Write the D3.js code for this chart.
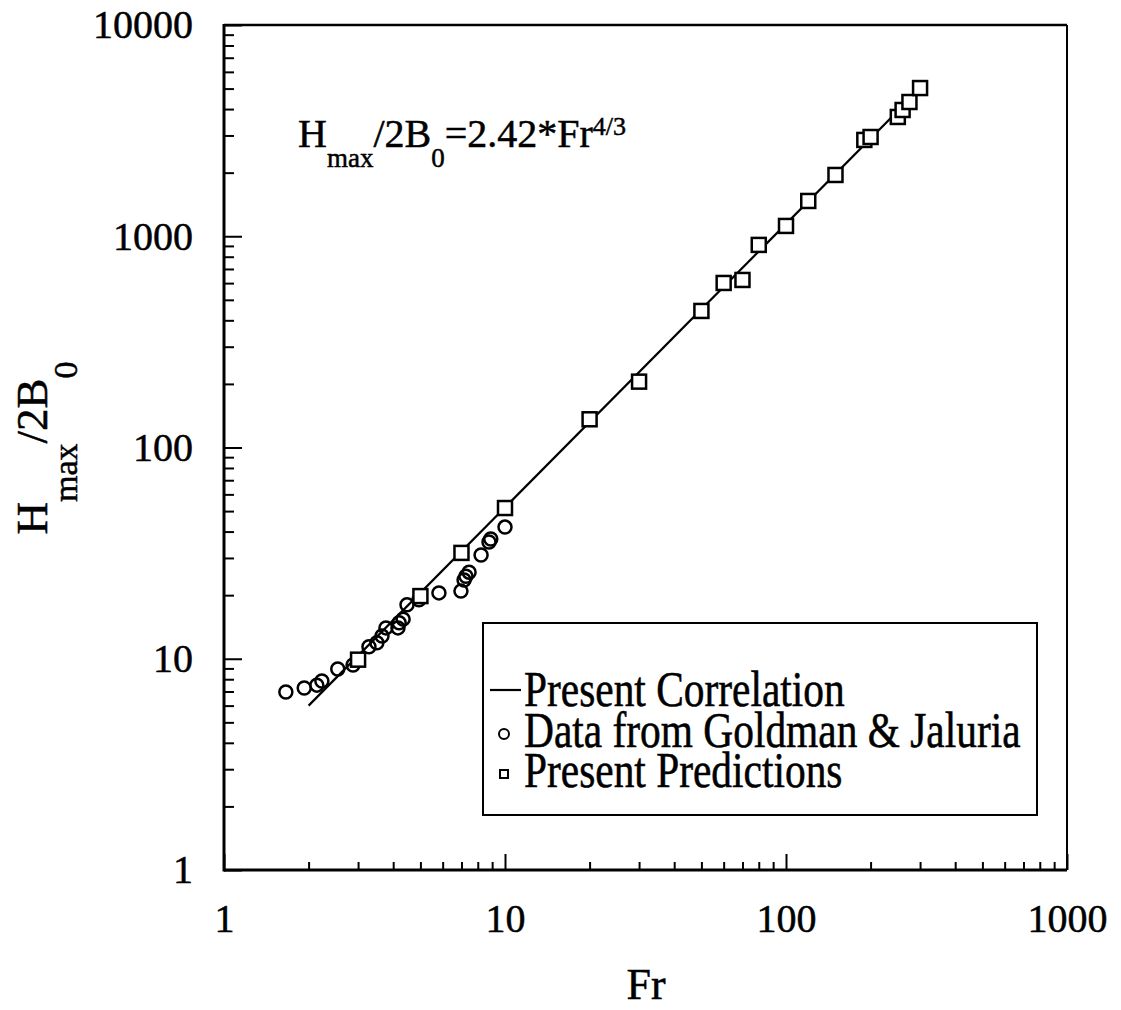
<!DOCTYPE html>
<html>
<head>
<meta charset="utf-8">
<script src="https://cdn.jsdelivr.net/npm/d3@7"></script>
<style>
  html, body { margin: 0; padding: 0; background: #fff; }
  text { font-family: "Liberation Serif", "Times New Roman", serif; fill: #000; stroke: #000; stroke-width: 0.5px; }
</style>
</head>
<body>
<div id="chart"></div>
<script>
// Goldman & Jaluria data (circles)
var gjFr = [1.66, 1.93, 2.14, 2.23, 2.54, 2.88, 3.28, 3.50, 3.65, 3.77, 4.16, 4.20, 4.34, 4.48, 4.94, 5.82, 6.97, 7.15, 7.26, 7.45, 8.22, 8.77, 8.90, 10.0];
var gjH  = [6.96, 7.27, 7.50, 7.85, 8.94, 9.34, 11.4, 11.9, 12.8, 14.0, 14.0, 14.8, 15.4, 18.0, 19.0, 20.5, 20.9, 23.6, 24.6, 25.7, 31.0, 35.7, 36.9, 42.0];

// present predictions (squares)
var prFr = [3, 5, 7, 10, 20, 30, 50, 60, 70, 80, 100, 120, 150, 190, 200, 250, 260, 275, 300];
var prH  = [9.9, 19.8, 31.7, 51.7, 136, 205, 443, 601, 621, 910, 1119, 1469, 1950, 2857, 2950, 3670, 3960, 4320, 5030];

// present correlation line, end points
var corrFr = [2, 300];
var corrH  = [6.0, 5000];

var xMajor = [1, 10, 100, 1000];
var yMajor = [1, 10, 100, 1000, 10000];
var xTitle = "Fr";
var legendLabels = ["Present Correlation", "Data from Goldman & Jaluria", "Present Predictions"];

var W = 1121, H = 1010;
var pLeft = 224, pRight = 1067, pTop = 25, pBottom = 870;

var svg = d3.select("#chart").append("svg")
    .attr("width", W)
    .attr("height", H);

var x = d3.scaleLog().domain([1, 1000]).range([pLeft, pRight]);
var y = d3.scaleLog().domain([1, 10000]).range([pBottom, pTop]);

function minors(major) {
    var out = [];
    major.slice(0, -1).forEach(function(m){
        for (var k = 2; k <= 9; k++) { out.push(m * k); }
    });
    return out;
}

// axes, ticks pointing inward
var yAxisG = svg.append("g").attr("transform", "translate(" + pLeft + ",0)");
yAxisG.call(d3.axisLeft(y).tickValues(yMajor).tickSize(-18).tickPadding(31).tickFormat(d3.format("d")));
yAxisG.append("g").call(d3.axisLeft(y).tickValues(minors(yMajor)).tickSize(-10).tickFormat(""));

var xAxisG = svg.append("g").attr("transform", "translate(0," + pBottom + ")");
xAxisG.call(d3.axisBottom(x).tickValues(xMajor).tickSize(-16).tickPadding(34).tickFormat(d3.format("d")));
xAxisG.append("g").call(d3.axisBottom(x).tickValues(minors(xMajor)).tickSize(-8).tickFormat(""));

svg.selectAll(".domain").remove();
svg.selectAll(".tick line").attr("stroke", "#000").attr("stroke-width", 2);
svg.selectAll(".tick text")
    .style("font-family", "'Liberation Serif', serif")
    .style("font-size", "40px")
    .attr("fill", "#000");

// frame
svg.append("line").attr("x1", pLeft).attr("x2", pRight).attr("y1", pTop).attr("y2", pTop)
    .attr("stroke", "#000").attr("stroke-width", 2.5);
svg.append("line").attr("x1", pRight).attr("x2", pRight).attr("y1", pTop).attr("y2", pBottom)
    .attr("stroke", "#000").attr("stroke-width", 2);
svg.append("line").attr("x1", pLeft).attr("x2", pLeft).attr("y1", pTop - 1).attr("y2", pBottom + 1.5)
    .attr("stroke", "#000").attr("stroke-width", 3);
svg.append("line").attr("x1", pLeft).attr("x2", pRight).attr("y1", pBottom).attr("y2", pBottom)
    .attr("stroke", "#000").attr("stroke-width", 3);

// correlation line
var line = d3.line()
    .x(function(d){ return x(d[0]); })
    .y(function(d){ return y(d[1]); });

svg.append("path")
    .datum(d3.zip(corrFr, corrH))
    .attr("d", line)
    .attr("fill", "none")
    .attr("stroke", "#000")
    .attr("stroke-width", 2.2);

svg.selectAll("circle.gj").data(d3.zip(gjFr, gjH)).enter().append("circle")
    .attr("class", "gj")
    .attr("cx", function(d){ return x(d[0]); })
    .attr("cy", function(d){ return y(d[1]); })
    .attr("r", 6.5)
    .attr("fill", "none")
    .attr("stroke", "#000")
    .attr("stroke-width", 2.5);

var sq = 14;
svg.selectAll("rect.pr").data(d3.zip(prFr, prH)).enter().append("rect")
    .attr("class", "pr")
    .attr("x", function(d){ return x(d[0]) - sq / 2; })
    .attr("y", function(d){ return y(d[1]) - sq / 2; })
    .attr("width", sq)
    .attr("height", sq)
    .attr("fill", "#fff")
    .attr("stroke", "#000")
    .attr("stroke-width", 2.5);

// equation
var eq = svg.append("text").attr("x", 298).attr("y", 147).style("font-size", "40px");
eq.append("tspan").text("H");
eq.append("tspan").attr("dy", 20).style("font-size", "27px").text("max");
eq.append("tspan").attr("dy", -20).text("/2B");
eq.append("tspan").attr("dy", 20).style("font-size", "27px").text("0");
eq.append("tspan").attr("dy", -20).text("=2.42*Fr");
eq.append("tspan").attr("dy", -12).style("font-size", "26px").text("4/3");

// axis titles
svg.append("text")
    .attr("x", 646).attr("y", 999)
    .attr("text-anchor", "middle")
    .style("font-size", "44px")
    .text(xTitle);

var yt = svg.append("text")
    .attr("transform", "translate(47,448) rotate(-90)")
    .attr("text-anchor", "middle")
    .style("font-size", "45px");
yt.append("tspan").text("H");
yt.append("tspan").attr("dy", 30).style("font-size", "34px").text("max");
yt.append("tspan").attr("dy", -30).text("/2B");
yt.append("tspan").attr("dy", 30).style("font-size", "34px").text("0");

// legend
var lg = svg.append("g");
lg.append("rect")
    .attr("x", 483).attr("y", 623).attr("width", 554).attr("height", 192)
    .attr("fill", "#fff").attr("stroke", "#000").attr("stroke-width", 2);

var rowY = [706, 747, 787];
legendLabels.forEach(function(t, i){
    lg.append("text")
        .attr("transform", "translate(524," + rowY[i] + ") scale(0.9,1.08)")
        .style("font-size", "46px")
        .text(t);
});
lg.append("line").attr("x1", 490).attr("x2", 521).attr("y1", rowY[0] - 16).attr("y2", rowY[0] - 16)
    .attr("stroke", "#000").attr("stroke-width", 2.2);
lg.append("circle").attr("cx", 504).attr("cy", rowY[1] - 13).attr("r", 5)
    .attr("fill", "none").attr("stroke", "#000").attr("stroke-width", 2);
lg.append("rect").attr("x", 500).attr("y", rowY[2] - 17).attr("width", 8).attr("height", 8)
    .attr("fill", "none").attr("stroke", "#000").attr("stroke-width", 2);
</script>
</body>
</html>
